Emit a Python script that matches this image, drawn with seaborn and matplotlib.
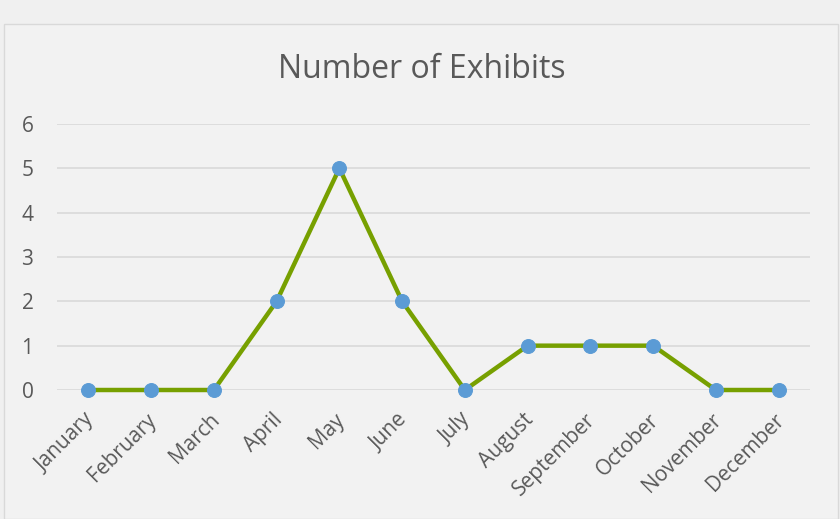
import matplotlib
matplotlib.use("Agg")
import matplotlib.pyplot as plt
import matplotlib.transforms as mtransforms
import seaborn as sns
import pandas as pd
from matplotlib.patches import Rectangle

# Data
months = ['January', 'February', 'March', 'April', 'May', 'June',
          'July', 'August', 'September', 'October', 'November', 'December']
exhibits = [0, 0, 0, 2, 5, 2, 0, 1, 1, 1, 0, 0]

df = pd.DataFrame({'Month': months, 'Exhibits': exhibits})

sns.set_style("white")
plt.rcParams['font.family'] = ['Open Sans', 'DejaVu Sans']

fig = plt.figure(figsize=(8.4, 5.19), dpi=100, facecolor='#f0f0f0')

# chart area frame like a spreadsheet chart object
fig.patches.append(Rectangle((4 / 840, 0), 834 / 840, 1 - 24 / 519,
                             transform=fig.transFigure, facecolor='#f2f2f2',
                             edgecolor='#d9d9d9', linewidth=1, zorder=-5))

ax = fig.add_axes([57 / 840, 1 - 390 / 519, 753 / 840, 266 / 519])
ax.set_zorder(2)
ax.set_facecolor('none')

sns.lineplot(data=df, x='Month', y='Exhibits', ax=ax, color='#77a000',
             linewidth=3.2, marker='o', markersize=10,
             markerfacecolor='#5b9bd5', markeredgecolor='#5b9bd5', sort=False)

ax.set_xlim(-0.5, 11.5)
ax.set_ylim(0, 6)
ax.set_yticks(range(0, 7))
ax.yaxis.grid(True, color='#d9d9d9', linewidth=1.2)
ax.set_axisbelow(True)
for s in ax.spines.values():
    s.set_visible(False)
ax.tick_params(axis='both', length=0, labelsize=15, labelcolor='#595959')
ax.tick_params(axis='y', pad=17)
ax.tick_params(axis='x', pad=14)
shift = mtransforms.ScaledTranslation(-5 / 100, 0, fig.dpi_scale_trans)
for lab in ax.get_xticklabels():
    lab.set_rotation(45)
    lab.set_ha('right')
    lab.set_rotation_mode('anchor')
    lab.set_transform(lab.get_transform() + shift)
for ln in ax.lines:
    ln.set_clip_on(False)

ax.set_xlabel('')
ax.set_ylabel('')
fig.text(422 / 840, 1 - 70 / 519, 'Number of Exhibits', ha='center', va='center',
         fontsize=23, color='#595959', zorder=3)

fig.savefig('out.png', dpi=100, facecolor=fig.get_facecolor())
